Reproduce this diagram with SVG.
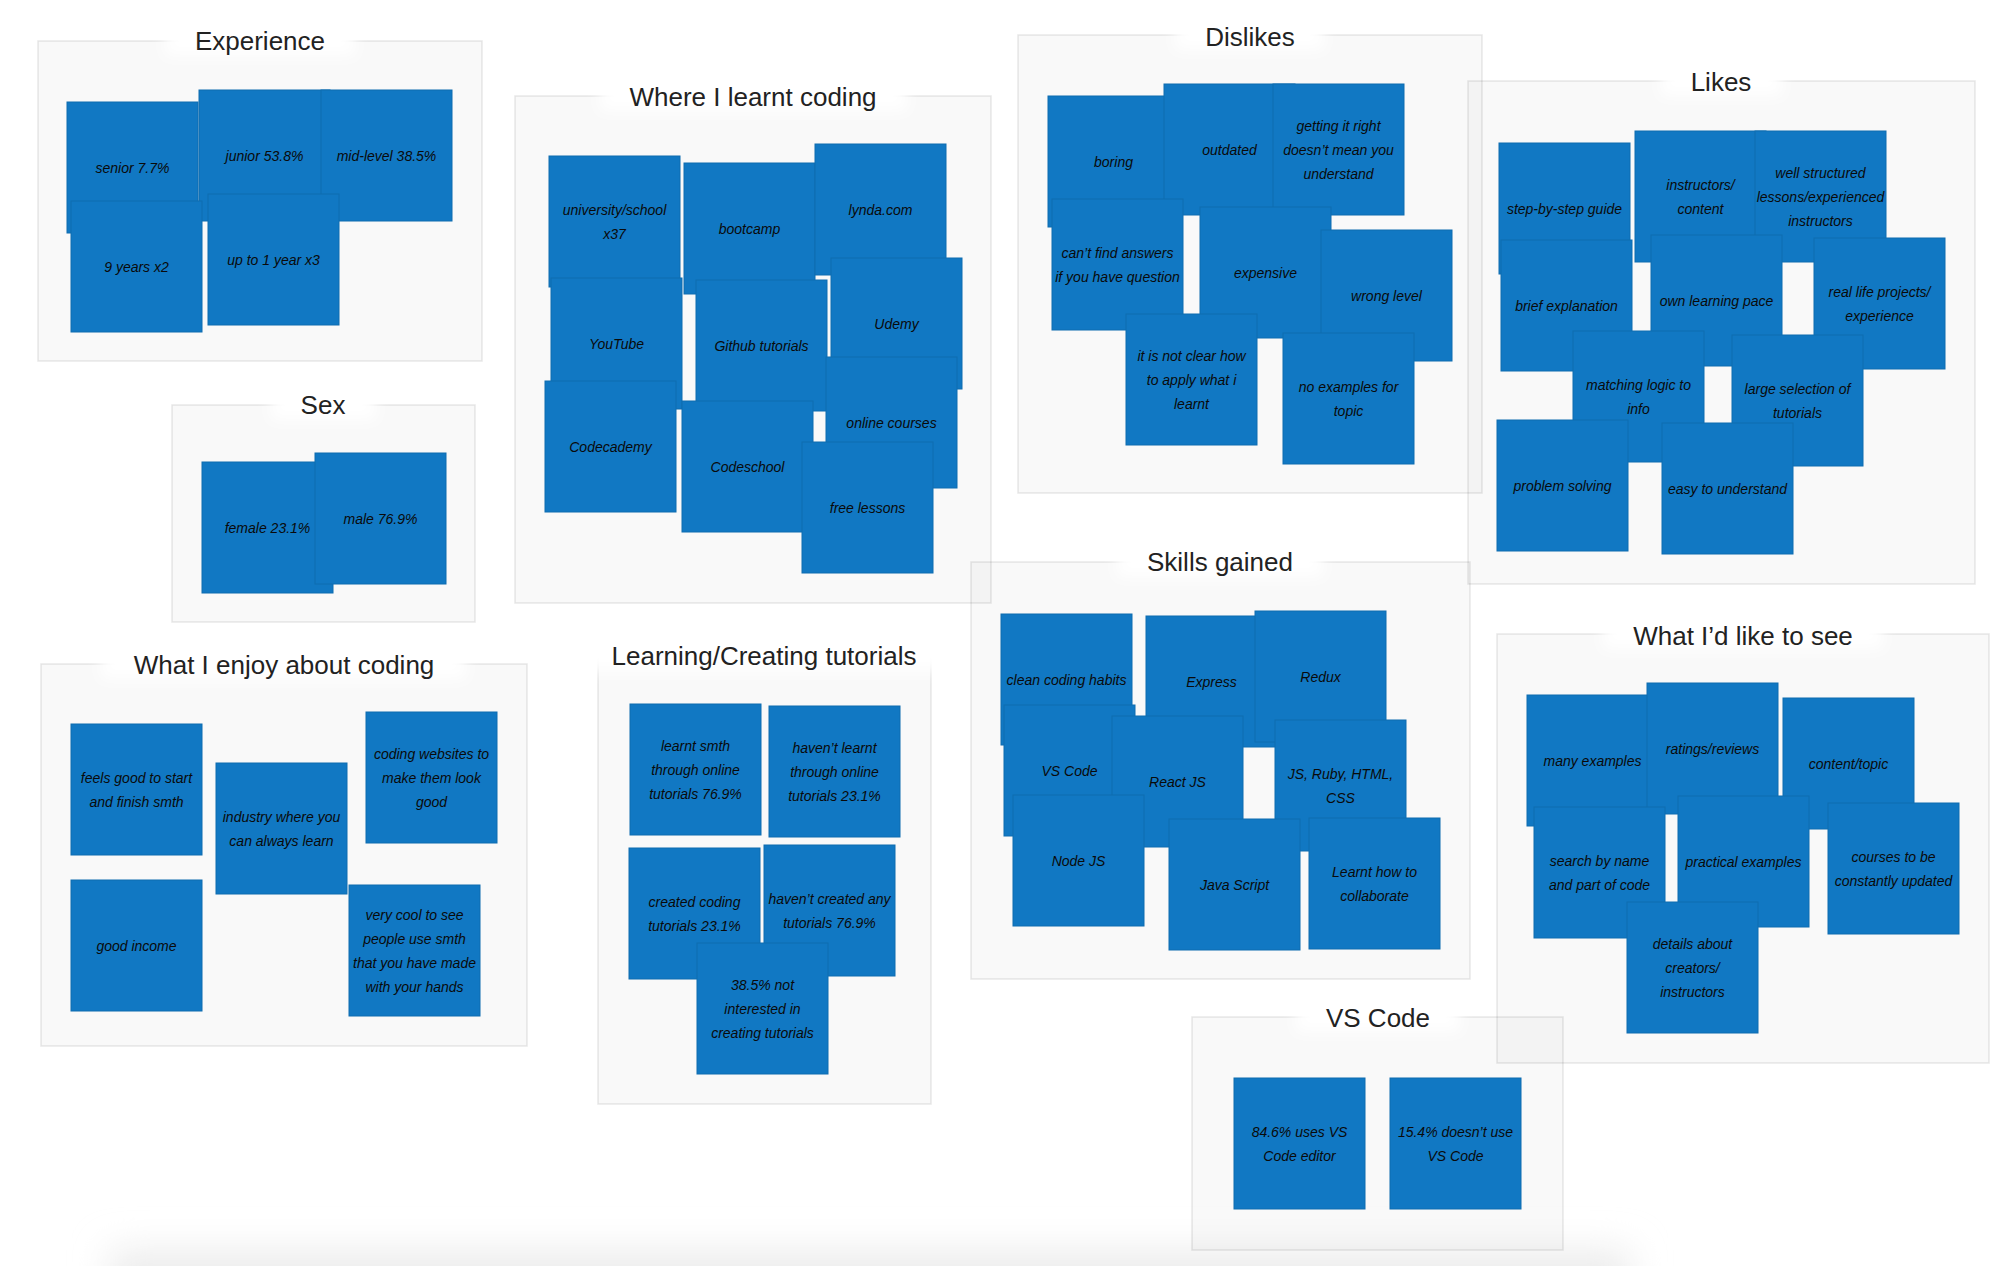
<svg xmlns="http://www.w3.org/2000/svg" width="2000" height="1266" viewBox="0 0 2000 1266">
<defs>
<filter id="blur" x="-30%" y="-100%" width="160%" height="300%"><feGaussianBlur stdDeviation="7"/></filter>
<filter id="shadow" x="-10%" y="-200%" width="120%" height="500%"><feGaussianBlur stdDeviation="18"/></filter>
<style>
.frame{fill:rgba(0,0,0,0.022);stroke:rgba(0,0,0,0.09);stroke-width:1.5}
.glow{fill:#ffffff;filter:url(#blur)}
.title{font-family:"Liberation Sans",Arial,sans-serif;font-size:26px;fill:#222222;text-anchor:middle}
.note rect{fill:#1178c3;stroke:#0f6cb0;stroke-width:1}
.note text{font-family:"Liberation Sans",Arial,sans-serif;font-style:italic;font-size:14px;fill:#0a0a0a;text-anchor:middle;dominant-baseline:central}
</style>
</defs>
<rect width="2000" height="1266" fill="#ffffff"/>
<rect x="110" y="1250" width="1520" height="60" fill="#ececec" filter="url(#shadow)"/>

<g id="frames">
<rect id="frame-experience" class="frame" x="38" y="41" width="444" height="320"/>
<rect id="frame-sex" class="frame" x="172" y="405" width="303" height="217"/>
<rect id="frame-where" class="frame" x="515" y="96" width="476" height="507"/>
<rect id="frame-dislikes" class="frame" x="1018" y="35" width="464" height="458"/>
<rect id="frame-likes" class="frame" x="1468" y="81" width="507" height="503"/>
<rect id="frame-enjoy" class="frame" x="41" y="664" width="486" height="382"/>
<rect id="frame-learning" class="frame" x="598" y="656" width="333" height="448"/>
<rect id="frame-skills" class="frame" x="971" y="562" width="499" height="417"/>
<rect id="frame-see" class="frame" x="1497" y="634" width="492" height="429"/>
<rect id="frame-vscode" class="frame" x="1192" y="1017" width="371" height="233"/>
</g>

<g id="titles">
<rect class="glow" x="165" y="26" width="190" height="30"/>
<text class="title" x="260" y="50">Experience</text>
<rect class="glow" x="271" y="390" width="105" height="30"/>
<text class="title" x="323" y="414">Sex</text>
<rect class="glow" x="600" y="81" width="307" height="30"/>
<text class="title" x="753" y="105.5">Where I learnt coding</text>
<rect class="glow" x="1175" y="20" width="149" height="30"/>
<text class="title" x="1250" y="45.5">Dislikes</text>
<rect class="glow" x="1661" y="66" width="121" height="30"/>
<text class="title" x="1721" y="91">Likes</text>
<rect class="glow" x="101" y="649" width="365" height="30"/>
<text class="title" x="284" y="673.5">What I enjoy about coding</text>
<rect class="glow" x="580" y="641" width="368" height="30"/>
<text class="title" x="764" y="665">Learning/Creating tutorials</text>
<rect class="glow" x="1117" y="547" width="206" height="30"/>
<text class="title" x="1220" y="571">Skills gained</text>
<rect class="glow" x="1603" y="619" width="280" height="30"/>
<text class="title" x="1743" y="645">What I’d like to see</text>
<rect class="glow" x="1296" y="1002" width="164" height="30"/>
<text class="title" x="1378" y="1027">VS Code</text>
</g>

<g id="experience">
<g id="n-senior" class="note"><rect x="67" y="102" width="131" height="131"/><text x="132.5" y="167.5">senior 7.7%</text></g>
<g id="n-junior" class="note"><rect x="199" y="90" width="131" height="131"/><text x="264.5" y="155.5">junior 53.8%</text></g>
<g id="n-mid" class="note"><rect x="321" y="90" width="131" height="131"/><text x="386.5" y="155.5">mid-level 38.5%</text></g>
<g id="n-9years" class="note"><rect x="71" y="201" width="131" height="131"/><text x="136.5" y="266.5">9 years x2</text></g>
<g id="n-upto1" class="note"><rect x="208" y="194" width="131" height="131"/><text x="273.5" y="259.5">up to 1 year x3</text></g>
</g>

<g id="sex">
<g id="n-female" class="note"><rect x="202" y="462" width="131" height="131"/><text x="267.5" y="527.5">female 23.1%</text></g>
<g id="n-male" class="note"><rect x="315" y="453" width="131" height="131"/><text x="380.5" y="518.5">male 76.9%</text></g>
</g>

<g id="where">
<g id="n-university" class="note"><rect x="549" y="156" width="131" height="131"/><text x="614.5" y="209.5">university/school</text><text x="614.5" y="233.5">x37</text></g>
<g id="n-bootcamp" class="note"><rect x="684" y="163" width="131" height="131"/><text x="749.5" y="228.5">bootcamp</text></g>
<g id="n-lynda" class="note"><rect x="815" y="144" width="131" height="131"/><text x="880.5" y="209.5">lynda.com</text></g>
<g id="n-youtube" class="note"><rect x="551" y="278" width="131" height="131"/><text x="616.5" y="343.5">YouTube</text></g>
<g id="n-github" class="note"><rect x="696" y="280" width="131" height="131"/><text x="761.5" y="345.5">Github tutorials</text></g>
<g id="n-udemy" class="note"><rect x="831" y="258" width="131" height="131"/><text x="896.5" y="323.5">Udemy</text></g>
<g id="n-codecademy" class="note"><rect x="545" y="381" width="131" height="131"/><text x="610.5" y="446.5">Codecademy</text></g>
<g id="n-codeschool" class="note"><rect x="682" y="401" width="131" height="131"/><text x="747.5" y="466.5">Codeschool</text></g>
<g id="n-online" class="note"><rect x="826" y="357" width="131" height="131"/><text x="891.5" y="422.5">online courses</text></g>
<g id="n-free" class="note"><rect x="802" y="442" width="131" height="131"/><text x="867.5" y="507.5">free lessons</text></g>
</g>

<g id="dislikes">
<g id="n-boring" class="note"><rect x="1048" y="96" width="131" height="131"/><text x="1113.5" y="161.5">boring</text></g>
<g id="n-outdated" class="note"><rect x="1164" y="84" width="131" height="131"/><text x="1229.5" y="149.5">outdated</text></g>
<g id="n-getting" class="note"><rect x="1273" y="84" width="131" height="131"/><text x="1338.5" y="125.5">getting it right</text><text x="1338.5" y="149.5">doesn’t mean you</text><text x="1338.5" y="173.5">understand</text></g>
<g id="n-cantfind" class="note"><rect x="1052" y="199" width="131" height="131"/><text x="1117.5" y="252.5">can’t find answers</text><text x="1117.5" y="276.5">if you have question</text></g>
<g id="n-expensive" class="note"><rect x="1200" y="207" width="131" height="131"/><text x="1265.5" y="272.5">expensive</text></g>
<g id="n-wrong" class="note"><rect x="1321" y="230" width="131" height="131"/><text x="1386.5" y="295.5">wrong level</text></g>
<g id="n-notclear" class="note"><rect x="1126" y="314" width="131" height="131"/><text x="1191.5" y="355.5">it is not clear how</text><text x="1191.5" y="379.5">to apply what i</text><text x="1191.5" y="403.5">learnt</text></g>
<g id="n-noexamples" class="note"><rect x="1283" y="333" width="131" height="131"/><text x="1348.5" y="386.5">no examples for</text><text x="1348.5" y="410.5">topic</text></g>
</g>

<g id="likes">
<g id="n-step" class="note"><rect x="1499" y="143" width="131" height="131"/><text x="1564.5" y="208.5">step-by-step guide</text></g>
<g id="n-instructors" class="note"><rect x="1635" y="131" width="131" height="131"/><text x="1700.5" y="184.5">instructors/</text><text x="1700.5" y="208.5">content</text></g>
<g id="n-wellstructured" class="note"><rect x="1755" y="131" width="131" height="131"/><text x="1820.5" y="172.5">well structured</text><text x="1820.5" y="196.5">lessons/experienced</text><text x="1820.5" y="220.5">instructors</text></g>
<g id="n-brief" class="note"><rect x="1501" y="240" width="131" height="131"/><text x="1566.5" y="305.5">brief explanation</text></g>
<g id="n-ownpace" class="note"><rect x="1651" y="235" width="131" height="131"/><text x="1716.5" y="300.5">own learning pace</text></g>
<g id="n-reallife" class="note"><rect x="1814" y="238" width="131" height="131"/><text x="1879.5" y="291.5">real life projects/</text><text x="1879.5" y="315.5">experience</text></g>
<g id="n-matching" class="note"><rect x="1573" y="331" width="131" height="131"/><text x="1638.5" y="384.5">matching logic to</text><text x="1638.5" y="408.5">info</text></g>
<g id="n-large" class="note"><rect x="1732" y="335" width="131" height="131"/><text x="1797.5" y="388.5">large selection of</text><text x="1797.5" y="412.5">tutorials</text></g>
<g id="n-problem" class="note"><rect x="1497" y="420" width="131" height="131"/><text x="1562.5" y="485.5">problem solving</text></g>
<g id="n-easy" class="note"><rect x="1662" y="423" width="131" height="131"/><text x="1727.5" y="488.5">easy to understand</text></g>
</g>

<g id="enjoy">
<g id="n-feels" class="note"><rect x="71" y="724" width="131" height="131"/><text x="136.5" y="777.5">feels good to start</text><text x="136.5" y="801.5">and finish smth</text></g>
<g id="n-industry" class="note"><rect x="216" y="763" width="131" height="131"/><text x="281.5" y="816.5">industry where you</text><text x="281.5" y="840.5">can always learn</text></g>
<g id="n-websites" class="note"><rect x="366" y="712" width="131" height="131"/><text x="431.5" y="753.5">coding websites to</text><text x="431.5" y="777.5">make them look</text><text x="431.5" y="801.5">good</text></g>
<g id="n-income" class="note"><rect x="71" y="880" width="131" height="131"/><text x="136.5" y="945.5">good income</text></g>
<g id="n-cool" class="note"><rect x="349" y="885" width="131" height="131"/><text x="414.5" y="914.5">very cool to see</text><text x="414.5" y="938.5">people use smth</text><text x="414.5" y="962.5">that you have made</text><text x="414.5" y="986.5">with your hands</text></g>
</g>

<g id="learning">
<g id="n-learnt" class="note"><rect x="630" y="704" width="131" height="131"/><text x="695.5" y="745.5">learnt smth</text><text x="695.5" y="769.5">through online</text><text x="695.5" y="793.5">tutorials 76.9%</text></g>
<g id="n-notlearnt" class="note"><rect x="769" y="706" width="131" height="131"/><text x="834.5" y="747.5">haven’t learnt</text><text x="834.5" y="771.5">through online</text><text x="834.5" y="795.5">tutorials 23.1%</text></g>
<g id="n-created" class="note"><rect x="629" y="848" width="131" height="131"/><text x="694.5" y="901.5">created coding</text><text x="694.5" y="925.5">tutorials 23.1%</text></g>
<g id="n-notcreated" class="note"><rect x="764" y="845" width="131" height="131"/><text x="829.5" y="898.5">haven’t created any</text><text x="829.5" y="922.5">tutorials 76.9%</text></g>
<g id="n-notinterested" class="note"><rect x="697" y="943" width="131" height="131"/><text x="762.5" y="984.5">38.5% not</text><text x="762.5" y="1008.5">interested in</text><text x="762.5" y="1032.5">creating tutorials</text></g>
</g>

<g id="skills">
<g id="n-clean" class="note"><rect x="1001" y="614" width="131" height="131"/><text x="1066.5" y="679.5">clean coding habits</text></g>
<g id="n-express" class="note"><rect x="1146" y="616" width="131" height="131"/><text x="1211.5" y="681.5">Express</text></g>
<g id="n-redux" class="note"><rect x="1255" y="611" width="131" height="131"/><text x="1320.5" y="676.5">Redux</text></g>
<g id="n-vscode-skill" class="note"><rect x="1004" y="705" width="131" height="131"/><text x="1069.5" y="770.5">VS Code</text></g>
<g id="n-react" class="note"><rect x="1112" y="716" width="131" height="131"/><text x="1177.5" y="781.5">React JS</text></g>
<g id="n-jsruby" class="note"><rect x="1275" y="720" width="131" height="131"/><text x="1340.5" y="773.5">JS, Ruby, HTML,</text><text x="1340.5" y="797.5">CSS</text></g>
<g id="n-node" class="note"><rect x="1013" y="795" width="131" height="131"/><text x="1078.5" y="860.5">Node JS</text></g>
<g id="n-javascript" class="note"><rect x="1169" y="819" width="131" height="131"/><text x="1234.5" y="884.5">Java Script</text></g>
<g id="n-collaborate" class="note"><rect x="1309" y="818" width="131" height="131"/><text x="1374.5" y="871.5">Learnt how to</text><text x="1374.5" y="895.5">collaborate</text></g>
</g>

<g id="see">
<g id="n-many" class="note"><rect x="1527" y="695" width="131" height="131"/><text x="1592.5" y="760.5">many examples</text></g>
<g id="n-ratings" class="note"><rect x="1647" y="683" width="131" height="131"/><text x="1712.5" y="748.5">ratings/reviews</text></g>
<g id="n-content" class="note"><rect x="1783" y="698" width="131" height="131"/><text x="1848.5" y="763.5">content/topic</text></g>
<g id="n-search" class="note"><rect x="1534" y="807" width="131" height="131"/><text x="1599.5" y="860.5">search by name</text><text x="1599.5" y="884.5">and part of code</text></g>
<g id="n-practical" class="note"><rect x="1678" y="796" width="131" height="131"/><text x="1743.5" y="861.5">practical examples</text></g>
<g id="n-courses" class="note"><rect x="1828" y="803" width="131" height="131"/><text x="1893.5" y="856.5">courses to be</text><text x="1893.5" y="880.5">constantly updated</text></g>
<g id="n-details" class="note"><rect x="1627" y="902" width="131" height="131"/><text x="1692.5" y="943.5">details about</text><text x="1692.5" y="967.5">creators/</text><text x="1692.5" y="991.5">instructors</text></g>
</g>

<g id="vscode">
<g id="n-uses" class="note"><rect x="1234" y="1078" width="131" height="131"/><text x="1299.5" y="1131.5">84.6% uses VS</text><text x="1299.5" y="1155.5">Code editor</text></g>
<g id="n-doesnt" class="note"><rect x="1390" y="1078" width="131" height="131"/><text x="1455.5" y="1131.5">15.4% doesn’t use</text><text x="1455.5" y="1155.5">VS Code</text></g>
</g>
</svg>
